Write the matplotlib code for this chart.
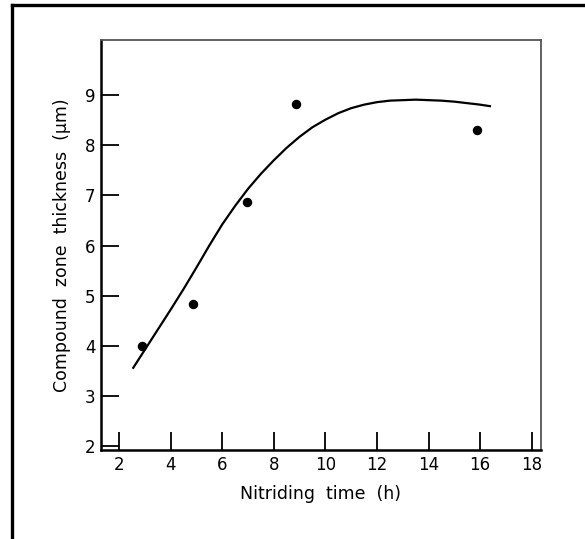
import matplotlib.pyplot as plt
from matplotlib.lines import Line2D

# measured points
time_h = [2.88, 4.88, 6.95, 8.86, 15.86]
thickness_um = [4.00, 4.84, 6.87, 8.83, 8.30]

# fitted curve
curve_x = [2.55, 3.0, 3.5, 4.0, 4.5, 5.0, 5.5, 6.0, 6.5, 7.0, 7.5, 8.0, 8.5,
           9.0, 9.5, 10.0, 10.5, 11.0, 11.5, 12.0, 12.5, 13.0, 13.5, 14.0,
           14.5, 15.0, 15.5, 16.0, 16.38]
curve_y = [3.56, 3.92, 4.32, 4.72, 5.13, 5.56, 6.00, 6.42, 6.79, 7.13, 7.43,
           7.70, 7.95, 8.17, 8.36, 8.51, 8.64, 8.74, 8.81, 8.86, 8.89, 8.90,
           8.91, 8.90, 8.89, 8.87, 8.84, 8.81, 8.78]

x_ticks = [2, 4, 6, 8, 10, 12, 14, 16, 18]
y_ticks = [2, 3, 4, 5, 6, 7, 8, 9]

fig = plt.figure(figsize=(5.85, 5.39), dpi=100)
ax = fig.add_axes([101 / 585, 1 - 450 / 539, 440 / 585, 410 / 539])

ax.plot(curve_x, curve_y, color='black', lw=1.6, solid_joinstyle='round')
ax.plot(time_h, thickness_um, 'o', color='black', markersize=5.8)

ax.set_xlim(1.30, 18.36)
ax.set_ylim(1.92, 10.10)
ax.set_xticks(x_ticks)
ax.set_yticks(y_ticks)
ax.tick_params(direction='in', length=13, width=1.3, labelsize=12, pad=4)

for side in ['left', 'bottom']:
    ax.spines[side].set_linewidth(1.8)
for side in ['top', 'right']:
    ax.spines[side].set_linewidth(1.3)
    ax.spines[side].set_color('#555555')

ax.set_xlabel('Nitriding  time  (h)', fontsize=12.5, labelpad=8)
ax.set_ylabel('Compound  zone  thickness  (\u03bcm)', fontsize=12.5, labelpad=10)

# outer frame: top and left edges only
fig.add_artist(Line2D([12 / 585, 12 / 585], [0, 1 - 5 / 539], color='black', lw=2.4,
                      transform=fig.transFigure))
fig.add_artist(Line2D([12 / 585, 1], [1 - 5 / 539, 1 - 5 / 539], color='black', lw=2.4,
                      transform=fig.transFigure))

fig.savefig('out.png', dpi=100)
